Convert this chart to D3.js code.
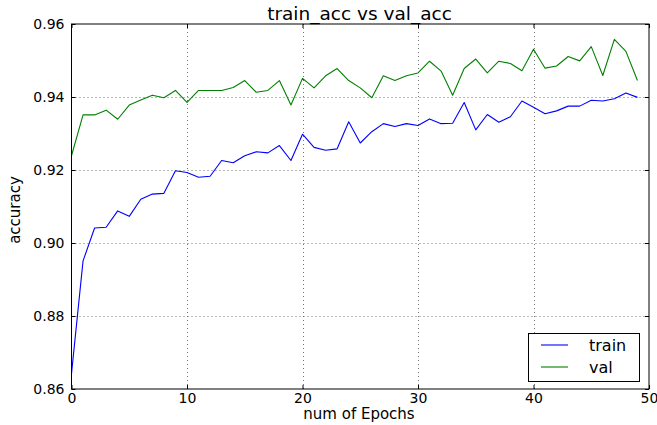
<!DOCTYPE html>
<html>
<head>
<meta charset="utf-8">
<script src="https://cdn.jsdelivr.net/npm/d3@7"></script>
<style>
  html, body { margin: 0; padding: 0; background: #fff; }
  svg { display: block; font-family: "DejaVu Sans", sans-serif; }
</style>
</head>
<body>
<svg id="chart" width="657" height="425"></svg>
<script>
// Per-epoch accuracy over 50 epochs
const epochs = d3.range(50);
const trainAcc = [
  0.8642, 0.8951, 0.9041, 0.9043, 0.9088, 0.9073, 0.9120, 0.9134, 0.9136, 0.9198,
  0.9193, 0.9180, 0.9183, 0.9226, 0.9220, 0.9239, 0.9250, 0.9247, 0.9267, 0.9226,
  0.9298, 0.9262, 0.9254, 0.9258, 0.9332, 0.9274, 0.9305, 0.9327, 0.9319, 0.9327,
  0.9322, 0.9340, 0.9327, 0.9328, 0.9385, 0.9310, 0.9352, 0.9331, 0.9346, 0.9389,
  0.9372, 0.9354, 0.9362, 0.9375, 0.9375, 0.9391, 0.9389, 0.9395, 0.9411, 0.9399
];
const valAcc = [
  0.9239, 0.9351, 0.9351, 0.9364, 0.9339, 0.9378, 0.9392, 0.9405, 0.9398, 0.9418,
  0.9385, 0.9418, 0.9418, 0.9418, 0.9426, 0.9445, 0.9413, 0.9418, 0.9445, 0.9378,
  0.9451, 0.9425, 0.9458, 0.9478, 0.9445, 0.9425, 0.9398, 0.9458, 0.9445, 0.9458,
  0.9466, 0.9498, 0.9471, 0.9405, 0.9478, 0.9504, 0.9466, 0.9498, 0.9492, 0.9472,
  0.9531, 0.9479, 0.9485, 0.9511, 0.9499, 0.9538, 0.9459, 0.9558, 0.9525, 0.9445
];
const xTicks = [0, 10, 20, 30, 40, 50];
const yTicks = [0.86, 0.88, 0.90, 0.92, 0.94, 0.96];
const seriesNames = ["train", "val"];
const seriesColors = ["#0000ff", "#008000"];

const svg = d3.select("#chart");
const plotLeft = 71.5, plotRight = 649, plotTop = 24, plotBottom = 389;

const x = d3.scaleLinear().domain([0, 50]).range([plotLeft, plotRight]);
const y = d3.scaleLinear().domain([0.86, 0.96]).range([plotBottom, plotTop]);

// dotted grid
const grid = svg.append("g").attr("stroke", "#000").attr("stroke-width", 1)
  .attr("stroke-dasharray", "1,3").attr("opacity", 0.55);
xTicks.slice(1, -1).forEach(t => grid.append("line")
  .attr("x1", Math.round(x(t)) + 0.5).attr("x2", Math.round(x(t)) + 0.5)
  .attr("y1", plotTop).attr("y2", plotBottom));
yTicks.slice(1, -1).forEach(t => grid.append("line")
  .attr("x1", plotLeft).attr("x2", plotRight)
  .attr("y1", Math.round(y(t)) + 0.5).attr("y2", Math.round(y(t)) + 0.5));

// data lines
const series = [trainAcc, valAcc];
const line = d3.line().x((d, i) => x(epochs[i])).y(d => y(d));
series.forEach((s, k) => svg.append("path")
  .datum(s)
  .attr("fill", "none")
  .attr("stroke", seriesColors[k])
  .attr("stroke-width", 1.1)
  .attr("stroke-linejoin", "round")
  .attr("d", line));

// axes with inward ticks
const tickFont = g => g.selectAll("text").attr("font-size", 14)
  .attr("font-family", "DejaVu Sans, sans-serif").attr("fill", "#000");
const xAxis = svg.append("g").attr("transform", `translate(0,${plotBottom})`)
  .call(d3.axisBottom(x).tickValues(xTicks).tickFormat(d3.format("d"))
    .tickSizeInner(-4).tickSizeOuter(0).tickPadding(4));
xAxis.call(tickFont);
const yAxis = svg.append("g").attr("transform", `translate(${plotLeft},0)`)
  .call(d3.axisLeft(y).tickValues(yTicks).tickFormat(d3.format(".2f"))
    .tickSizeInner(-4).tickSizeOuter(0).tickPadding(7));
yAxis.call(tickFont);
svg.append("g").attr("transform", `translate(0,${plotTop})`)
  .call(d3.axisTop(x).tickValues(xTicks).tickFormat("").tickSizeInner(-4).tickSizeOuter(0));
svg.append("g").attr("transform", `translate(${plotRight},0)`)
  .call(d3.axisRight(y).tickValues(yTicks).tickFormat("").tickSizeInner(-4).tickSizeOuter(0));
svg.selectAll(".domain").remove();

// frame
svg.append("rect").attr("x", plotLeft).attr("y", plotTop)
  .attr("width", plotRight - plotLeft).attr("height", plotBottom - plotTop)
  .attr("fill", "none").attr("stroke", "#000").attr("stroke-width", 1);

// title and axis labels
svg.append("text").attr("x", 359.5).attr("y", 20)
  .attr("text-anchor", "middle").attr("font-size", 18.5).text("train_acc vs val_acc");
svg.append("text").attr("x", 359).attr("y", 419)
  .attr("text-anchor", "middle").attr("font-size", 15).text("num of Epochs");
svg.append("text").attr("transform", `translate(19.5,210) rotate(-90)`)
  .attr("text-anchor", "middle").attr("font-size", 15).text("accuracy");

// legend
const lg = svg.append("g");
lg.append("rect").attr("x", 528.5).attr("y", 333.5).attr("width", 111).attr("height", 48)
  .attr("fill", "#fff").attr("stroke", "#000").attr("stroke-width", 1);
seriesNames.forEach((name, k) => {
  const ly = 345 + k * 22;
  lg.append("line").attr("x1", 541).attr("x2", 568).attr("y1", ly).attr("y2", ly)
    .attr("stroke", seriesColors[k]).attr("stroke-width", 1.1);
  lg.append("text").attr("x", 589).attr("y", ly + 5.5).attr("font-size", 16).text(name);
});
</script>
</body>
</html>
